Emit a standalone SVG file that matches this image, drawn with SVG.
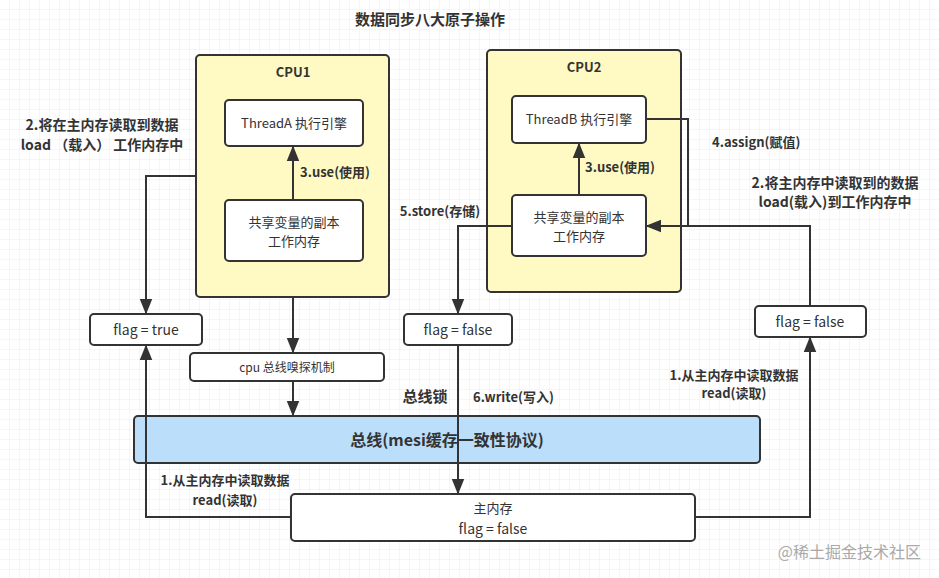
<svg xmlns="http://www.w3.org/2000/svg" width="939" height="578" viewBox="0 0 939 578">
<defs>
<pattern id="g" width="10" height="10" patternUnits="userSpaceOnUse"><path d="M10 0V10H0" fill="none" stroke="#ececec" stroke-width="1"/></pattern>
<marker id="a" viewBox="0 0 10 10" refX="9" refY="5" markerWidth="8" markerHeight="8" orient="auto"><path d="M0 1L10 5L0 9z" fill="#333"/></marker>
<style>
.cpu{fill:#fff9c4;stroke:#333;stroke-width:2}
.b{fill:#fff;stroke:#333;stroke-width:2}
text{font-family:"Noto Sans CJK SC","Liberation Sans",sans-serif;fill:#333;font-size:12px}
.c{text-anchor:middle}
.bd{font-weight:bold}
.s13{font-size:13px}
.s14{font-size:14px}
.s15{font-size:15px}
.l{fill:none;stroke:#333;stroke-width:2}
</style>
</defs>
<rect width="939" height="578" fill="#fff"/>
<rect width="939" height="578" fill="url(#g)"/>
<text x="430" y="25" class="c bd s15">数据同步八大原子操作</text>
<g id="cpu1"><rect x="196" y="55" width="193" height="242" rx="4" class="cpu"/><text x="293" y="77" class="c bd s13">CPU1</text></g>
<g id="threadA"><rect x="225" y="100" width="138" height="46" rx="4" class="b"/><text x="294" y="128" class="c s13">ThreadA 执行引擎</text></g>
<g id="work1"><rect x="225" y="200" width="138" height="61" rx="4" class="b"/><text x="294" y="227" class="c s13">共享变量的副本</text><text x="294" y="246" class="c s13">工作内存</text></g>
<g id="cpu2"><rect x="487" y="50" width="194" height="242" rx="4" class="cpu"/><text x="584" y="72" class="c bd s13">CPU2</text></g>
<g id="threadB"><rect x="512" y="96" width="134" height="47" rx="4" class="b"/><text x="579" y="124" class="c s13">ThreadB 执行引擎</text></g>
<g id="work2"><rect x="512" y="195" width="134" height="61" rx="4" class="b"/><text x="579" y="222" class="c s13">共享变量的副本</text><text x="579" y="241" class="c s13">工作内存</text></g>
<g id="flagT"><rect x="90" y="314" width="112" height="31" rx="4" class="b"/><text x="146" y="335" class="c s14">flag = true</text></g>
<g id="flagF1"><rect x="404" y="314" width="108" height="31" rx="4" class="b"/><text x="458" y="335" class="c s14">flag = false</text></g>
<g id="flagF2"><rect x="755" y="306" width="111" height="31" rx="4" class="b"/><text x="810" y="327" class="c s14">flag = false</text></g>
<g id="sniff"><rect x="190" y="353" width="194" height="28" rx="4" class="b"/><text x="287" y="372" class="c">cpu 总线嗅探机制</text></g>
<g id="bus"><rect x="134" y="416" width="626" height="47" rx="4" fill="#bbdefb" stroke="#333" stroke-width="2"/><text x="447" y="446" class="c bd" style="font-size:16px">总线(mesi缓存一致性协议)</text></g>
<g id="main"><rect x="291" y="494" width="404" height="47" rx="4" class="b"/><text x="493" y="513" class="c s13">主内存</text><text x="493" y="534" class="c s14">flag = false</text></g>
<g id="edges">
<path class="l" d="M196 176H146V313" marker-end="url(#a)"/>
<path class="l" d="M293 297V352" marker-end="url(#a)"/>
<path class="l" d="M293 381V415" marker-end="url(#a)"/>
<path class="l" d="M293 200V147" marker-end="url(#a)"/>
<path class="l" d="M579 195V144" marker-end="url(#a)"/>
<path class="l" d="M291 517H146V346" marker-end="url(#a)"/>
<path class="l" d="M695 517H810V338" marker-end="url(#a)"/>
<path class="l" d="M810 306V226H647" marker-end="url(#a)"/>
<path class="l" d="M646 119H688V226"/>
<path class="l" d="M512 226H458V313" marker-end="url(#a)"/>
<path class="l" d="M458 345V493" marker-end="url(#a)"/>
</g>
<g id="labels">
<text x="102" y="130" class="c bd s14">2.将在主内存读取到数据</text>
<text x="102" y="150" class="c bd s14">load （载入） 工作内存中</text>
<text x="300" y="177" class="bd s13">3.use(使用)</text>
<text x="585" y="172" class="bd s13">3.use(使用)</text>
<text x="440" y="216" class="c bd s13">5.store(存储)</text>
<text x="712" y="147" class="bd s13">4.assign(赋值)</text>
<text x="835" y="188" class="c bd s14">2.将主内存中读取到的数据</text>
<text x="835" y="207" class="c bd s14">load(载入)到工作内存中</text>
<text x="734" y="380" class="c bd s13">1.从主内存中读取数据</text>
<text x="734" y="398" class="c bd s13">read(读取)</text>
<text x="425" y="402" class="c bd s15">总线锁</text>
<text x="473" y="402" class="bd s13">6.write(写入)</text>
<text x="225" y="485" class="c bd s13">1.从主内存中读取数据</text>
<text x="225" y="505" class="c bd s13">read(读取)</text>
<text x="921" y="558" text-anchor="end" style="font-size:16px;fill:#aaa">@稀土掘金技术社区</text>
</g>
</svg>
